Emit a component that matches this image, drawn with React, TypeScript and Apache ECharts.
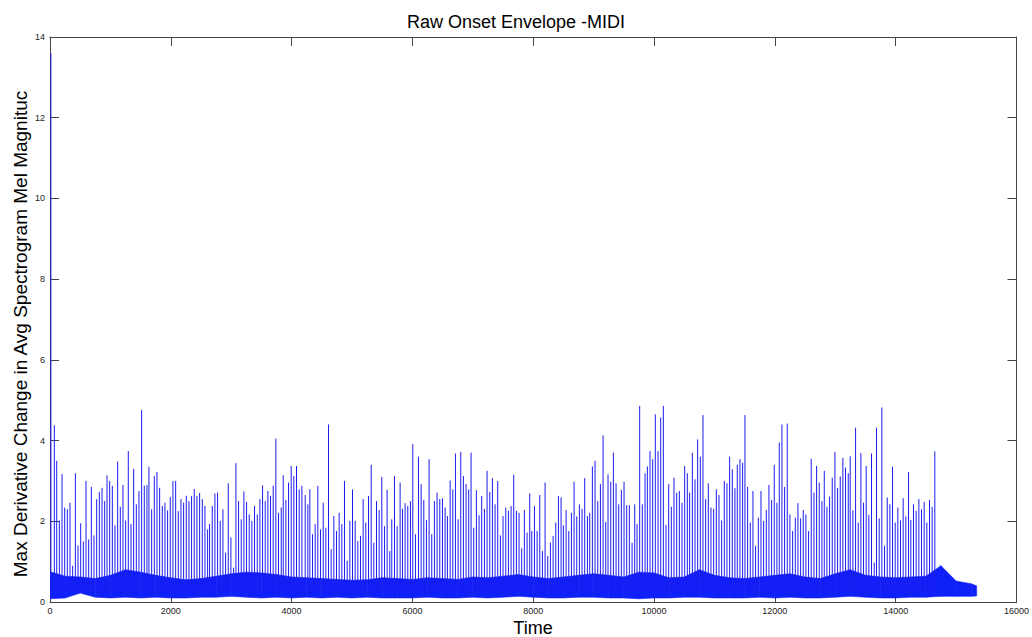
import React, { useEffect, useRef } from "react";
import * as echarts from "echarts";

// ---- data ----
const xTicks = [0, 2000, 4000, 6000, 8000, 10000, 12000, 14000, 16000];
const yTicks = [0, 2, 4, 6, 8, 10, 12, 14];

// dense low-level envelope (lower / upper edge of the noise band)
const bandTimes = [0, 250, 500, 750, 1000, 1250, 1500, 1750, 2000, 2250, 2500, 2750, 3000, 3250, 3500, 3750, 4000, 4250, 4500, 4750, 5000, 5250, 5500, 5750, 6000, 6250, 6500, 6750, 7000, 7250, 7500, 7750, 8000, 8250, 8500, 8750, 9000, 9250, 9500, 9750, 10000, 10250, 10500, 10750, 11000, 11250, 11500, 11750, 12000, 12250, 12500, 12750, 13000, 13250, 13500, 13750, 14000, 14250, 14500, 14750, 15000, 15250, 15340];
const bandTop = [0.75, 0.64, 0.62, 0.58, 0.66, 0.8, 0.74, 0.66, 0.6, 0.55, 0.58, 0.64, 0.7, 0.74, 0.72, 0.68, 0.62, 0.6, 0.58, 0.56, 0.54, 0.55, 0.6, 0.58, 0.56, 0.6, 0.58, 0.56, 0.62, 0.6, 0.64, 0.68, 0.62, 0.58, 0.62, 0.66, 0.7, 0.66, 0.62, 0.74, 0.72, 0.6, 0.62, 0.8, 0.66, 0.6, 0.58, 0.62, 0.66, 0.7, 0.62, 0.58, 0.7, 0.8, 0.66, 0.62, 0.6, 0.62, 0.64, 0.9, 0.52, 0.45, 0.4];
const bandBottom = [0.08, 0.1, 0.22, 0.12, 0.1, 0.12, 0.1, 0.12, 0.1, 0.1, 0.12, 0.12, 0.14, 0.12, 0.1, 0.12, 0.1, 0.12, 0.1, 0.12, 0.1, 0.12, 0.1, 0.1, 0.1, 0.12, 0.1, 0.1, 0.12, 0.1, 0.12, 0.14, 0.12, 0.1, 0.1, 0.12, 0.12, 0.1, 0.1, 0.08, 0.1, 0.1, 0.12, 0.12, 0.1, 0.1, 0.1, 0.12, 0.1, 0.12, 0.1, 0.1, 0.12, 0.14, 0.12, 0.1, 0.1, 0.12, 0.12, 0.14, 0.14, 0.14, 0.15];

// onset spikes
const spikeTimes = [15, 72, 111, 155, 199, 243, 287, 331, 375, 420, 464, 508, 552, 596, 640, 684, 728, 773, 817, 861, 905, 944, 988, 1032, 1076, 1120, 1164, 1208, 1252, 1296, 1341, 1385, 1429, 1473, 1517, 1561, 1605, 1638, 1683, 1727, 1771, 1815, 1859, 1903, 1947, 1991, 2035, 2080, 2124, 2168, 2212, 2256, 2300, 2344, 2388, 2432, 2477, 2521, 2565, 2609,
  2642, 2686, 2730, 2774, 2818, 2863, 2907, 2951, 2995, 3039, 3078, 3122, 3166, 3210, 3254, 3298, 3342, 3386, 3431, 3475, 3519, 3563, 3607, 3651, 3695, 3739, 3783, 3828, 3861, 3905, 3949, 3993, 4037, 4081, 4125, 4170, 4225, 4269, 4302, 4346, 4390, 4434, 4478, 4523, 4567, 4611, 4655, 4699, 4743, 4787, 4831, 4875, 4920, 4964, 5008, 5052, 5096, 5140, 5184, 5228, 5273,
  5317, 5361, 5405, 5449, 5493, 5537, 5581, 5625, 5658, 5703, 5747, 5796, 5835, 5879, 5923, 5967, 6006, 6050, 6100, 6144, 6188, 6232, 6276, 6320, 6364, 6408, 6453, 6497, 6541, 6579, 6624, 6668, 6712, 6756, 6800, 6844, 6888, 6932, 6971, 7015, 7059, 7103, 7147, 7192, 7236, 7280, 7324, 7368, 7412, 7456, 7500, 7545, 7589, 7633, 7677, 7721, 7765, 7809, 7853, 7898, 7942,
  7976, 8020, 8064, 8108, 8152, 8196, 8240, 8284, 8329, 8373, 8417, 8461, 8499, 8544, 8588, 8632, 8676, 8720, 8764, 8808, 8852, 8897, 8935, 8979, 9023, 9068, 9112, 9156, 9200, 9238, 9283, 9327, 9371, 9415, 9459, 9503, 9547, 9591, 9636, 9680, 9718, 9762, 9806, 9851, 9889, 9933, 9977, 10021, 10066, 10110, 10154, 10198, 10242, 10286, 10330, 10375, 10419, 10463, 10507, 10551,
  10589, 10634, 10678, 10722, 10766, 10810, 10854, 10898, 10942, 10987, 11031, 11075, 11119, 11163, 11207, 11251, 11295, 11339, 11378, 11422, 11466, 11505, 11549, 11593, 11637, 11681, 11726, 11770, 11814, 11858, 11902, 11946, 11990, 12034, 12073, 12117, 12161, 12205, 12249, 12294, 12338, 12382, 12426, 12470, 12514, 12558, 12602, 12647, 12691, 12735, 12779, 12818, 12862, 12906, 12950, 12994, 13038, 13082, 13126, 13170, 13215,
  13247, 13292, 13336, 13380, 13424, 13468, 13512, 13556, 13600, 13645, 13683, 13727, 13771, 13816, 13860, 13904, 13948, 13992, 14036, 14080, 14124, 14168, 14213, 14251, 14295, 14339, 14384, 14428, 14472, 14516, 14560, 14604, 14648];
const spikeValues = [13.6, 4.38, 3.5, 2.02, 3.17, 2.34, 2.3, 2.46, 0.9, 3.19, 1.4, 1.95, 1.5, 3.0, 1.55, 2.85, 1.65, 2.55, 2.73, 2.83, 2.5, 3.14, 3.0, 2.88, 1.9, 3.48, 2.36, 2.9, 2.02, 3.74, 1.93, 3.3, 2.42, 2.75, 4.76, 2.88, 2.9, 3.35, 2.3, 3.12, 3.22, 2.83, 2.38, 2.46, 2.27, 2.6, 3.0, 3.0, 2.25, 2.55, 2.46, 2.63, 2.5, 2.63, 2.8, 2.63, 2.7, 2.55, 2.38, 1.8,
  1.93, 2.38, 2.69, 2.71, 2.01, 2.3, 1.22, 2.94, 1.6, 0.85, 3.44, 2.5, 2.05, 2.74, 2.48, 2.17, 2.01, 2.38, 2.17, 2.55, 2.89, 2.5, 2.75, 2.63, 2.88, 4.05, 2.21, 2.34, 3.14, 2.53, 2.96, 3.37, 3.12, 3.37, 2.79, 2.88, 2.65, 2.42, 2.79, 1.68, 1.93, 2.88, 1.8, 2.46, 1.84, 4.4, 1.31, 2.13, 1.76, 2.21, 1.93, 3.0, 1.02, 2.01, 2.79, 2.01, 1.51, 1.64, 2.55, 1.97, 2.63,
  3.4, 1.47, 2.5, 2.28, 3.1, 1.88, 2.78, 1.26, 2.05, 3.12, 1.88, 2.96, 2.31, 2.45, 2.38, 2.5, 3.91, 1.68, 3.6, 2.92, 2.53, 2.03, 3.54, 1.68, 2.5, 2.71, 2.55, 2.57, 2.34, 2.13, 3.01, 2.79, 3.68, 2.05, 3.72, 3.12, 2.92, 2.79, 3.7, 1.84, 2.77, 2.15, 2.63, 2.31, 3.25, 2.73, 3.07, 2.42, 3.0, 1.65, 2.13, 2.34, 2.26, 2.38, 3.15, 2.26, 2.21, 1.33, 2.28, 1.72, 2.69,
  1.76, 2.38, 1.76, 2.65, 1.26, 2.96, 1.14, 1.47, 1.64, 1.97, 2.63, 2.59, 1.9, 2.28, 1.76, 2.21, 2.98, 2.12, 2.42, 2.31, 3.07, 2.13, 2.21, 3.36, 3.5, 2.5, 2.92, 4.13, 1.98, 3.16, 2.98, 3.7, 2.94, 2.42, 2.78, 2.98, 2.4, 2.4, 1.47, 2.42, 1.93, 4.86, 2.42, 3.19, 3.36, 3.74, 3.54, 4.65, 3.74, 4.57, 4.86, 1.91, 2.92, 2.36, 3.08, 2.71, 2.75, 2.46, 3.37, 3.19,
  2.71, 3.7, 3.04, 4.03, 3.6, 4.63, 2.55, 2.94, 2.34, 2.31, 2.79, 2.65, 2.02, 3.0, 2.94, 3.6, 3.29, 2.82, 3.4, 3.54, 3.45, 4.63, 2.85, 1.97, 2.75, 1.39, 2.09, 2.75, 2.01, 2.28, 2.9, 2.53, 3.4, 2.46, 3.95, 4.4, 2.85, 4.42, 2.17, 1.76, 2.09, 2.45, 2.07, 2.28, 2.17, 1.76, 3.55, 2.71, 3.37, 2.96, 2.5, 3.25, 2.36, 2.61, 3.08, 3.72, 2.83, 3.11, 3.57, 3.33, 3.19,
  3.61, 2.27, 4.32, 1.97, 3.69, 2.46, 3.37, 2.16, 3.68, 0.98, 4.32, 2.07, 4.82, 1.39, 2.59, 2.42, 3.35, 1.97, 2.34, 2.02, 2.57, 2.12, 3.22, 2.03, 2.42, 2.26, 2.55, 2.3, 2.48, 1.97, 2.53, 2.36, 3.73];

const titleText = "Raw Onset Envelope -MIDI";
const xName = "Time";
const yName = "Max Derivative Change in Avg Spectrogram Mel Magnituc";

const BAND = "#1020f8";
const SPIKE = "#1c1cf0";
const FRAME = "#444444";
const FONT = "Liberation Sans, Arial, sans-serif";

export default function App() {
  const ref = useRef<HTMLDivElement>(null);
  useEffect(() => {
    document.body.style.margin = "0";
    const chart = echarts.init(ref.current!, undefined, { renderer: "svg" });
    const spikeBase = 0.25;
    const axisCommon = {
      type: "value" as const,
      axisLine: { show: true, onZero: false, lineStyle: { color: FRAME, width: 1 } },
      axisTick: { show: true, inside: true, length: 9, lineStyle: { color: FRAME } },
      splitLine: { show: false },
    };
    // band segments: [t0, top0, bot0, t1, top1, bot1]
    const bandSegments = bandTimes.slice(0, -1).map((t, i) => [
      t, bandTop[i], bandBottom[i], bandTimes[i + 1], bandTop[i + 1], bandBottom[i + 1],
    ]);
    chart.setOption({
      animation: false,
      backgroundColor: "#ffffff",
      title: {
        text: titleText,
        left: "center",
        top: 8,
        textStyle: { fontSize: 18, fontWeight: "normal", color: "#000", fontFamily: FONT },
      },
      grid: { left: 50, right: 15, top: 37, bottom: 35, containLabel: false },
      xAxis: [
        {
          ...axisCommon,
          position: "bottom",
          min: xTicks[0],
          max: xTicks[xTicks.length - 1],
          interval: 2000,
          axisLabel: { show: true, fontSize: 9, color: "#222", margin: 4, fontFamily: FONT, formatter: (v: number) => String(v) },
        },
        {
          ...axisCommon,
          position: "top",
          min: xTicks[0],
          max: xTicks[xTicks.length - 1],
          interval: 2000,
          axisLabel: { show: false },
        },
      ],
      yAxis: [
        {
          ...axisCommon,
          position: "left",
          min: yTicks[0],
          max: yTicks[yTicks.length - 1],
          interval: 2,
          axisLabel: { show: true, fontSize: 9, color: "#222", margin: 5, fontFamily: FONT, formatter: (v: number) => String(v) },
        },
        {
          ...axisCommon,
          position: "right",
          min: yTicks[0],
          max: yTicks[yTicks.length - 1],
          interval: 2,
          axisLabel: { show: false },
        },
      ],
      graphic: [
        {
          type: "text",
          x: 533,
          y: 628,
          style: { text: xName, fontSize: 18, fontFamily: FONT, fill: "#000", textAlign: "center", textVerticalAlign: "middle" },
        },
        {
          type: "text",
          x: 20,
          y: 334,
          rotation: Math.PI / 2,
          style: { text: yName, fontSize: 19, fontFamily: FONT, fill: "#000", textAlign: "center", textVerticalAlign: "middle" },
        },
      ],
      series: [
        {
          type: "custom",
          data: bandSegments,
          encode: { x: [0, 3], y: [1, 2, 4, 5] },
          clip: true,
          silent: true,
          renderItem: (params: any, api: any) => {
            const a = api.coord([api.value(0), api.value(2)]);
            const b = api.coord([api.value(3), api.value(5)]);
            const c = api.coord([api.value(3), api.value(4)]);
            const d = api.coord([api.value(0), api.value(1)]);
            return {
              type: "polygon",
              shape: { points: [a, b, c, d] },
              style: { fill: BAND, stroke: BAND, lineWidth: 0.6 },
            };
          },
        },
        {
          type: "custom",
          data: spikeTimes.map((t, i) => [t, spikeValues[i]]),
          encode: { x: 0, y: 1 },
          clip: true,
          silent: true,
          renderItem: (params: any, api: any) => {
            const t = api.value(0);
            const p0 = api.coord([t, spikeBase]);
            const p1 = api.coord([t, api.value(1)]);
            return {
              type: "line",
              shape: { x1: p0[0], y1: p0[1], x2: p1[0], y2: p1[1] },
              style: { stroke: SPIKE, lineWidth: 1 },
            };
          },
        },
      ],
    });
    return () => chart.dispose();
  }, []);
  return <div ref={ref} style={{ width: 1032, height: 637 }} />;
}
